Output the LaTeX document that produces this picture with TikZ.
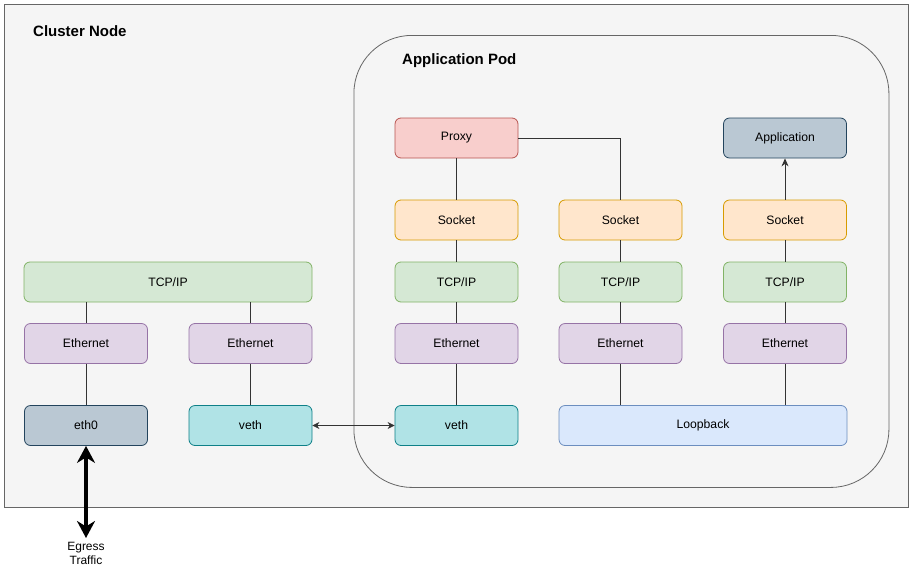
\documentclass[tikz,border=0pt]{standalone}
\usepackage{fontspec}
\setmainfont{Liberation Sans}
\usetikzlibrary{arrows.meta}
\definecolor{grayfill}{HTML}{F5F5F5}
\definecolor{graystroke}{HTML}{666666}
\definecolor{redfill}{HTML}{F8CECC}
\definecolor{redstroke}{HTML}{B85450}
\definecolor{bgfill}{HTML}{BAC8D3}
\definecolor{bgstroke}{HTML}{23445D}
\definecolor{orfill}{HTML}{FFE6CC}
\definecolor{orstroke}{HTML}{D79B00}
\definecolor{grfill}{HTML}{D5E8D4}
\definecolor{grstroke}{HTML}{82B366}
\definecolor{pufill}{HTML}{E1D5E7}
\definecolor{pustroke}{HTML}{9673A6}
\definecolor{tefill}{HTML}{B0E3E6}
\definecolor{testroke}{HTML}{0E8088}
\definecolor{blfill}{HTML}{DAE8FC}
\definecolor{blstroke}{HTML}{6C8EBF}
\definecolor{linec}{HTML}{333333}
\tikzset{
  box/.style={draw, rounded corners=6pt, minimum height=40pt, minimum width=123pt,
    inner sep=0pt, font=\fontsize{12.2}{14}\selectfont, line width=0.8pt},
  wide/.style={box, minimum width=288pt},
  redbox/.style={box, fill=redfill, draw=redstroke},
  appbox/.style={box, fill=bgfill, draw=bgstroke},
  sockbox/.style={box, fill=orfill, draw=orstroke},
  tcpbox/.style={box, fill=grfill, draw=grstroke},
  ethbox/.style={box, fill=pufill, draw=pustroke},
  vethbox/.style={box, fill=tefill, draw=testroke},
  loopbox/.style={box, fill=blfill, draw=blstroke},
  conn/.style={draw=linec, line width=0.8pt},
  title/.style={anchor=west, font=\fontsize{15}{18}\selectfont\bfseries, inner sep=0pt},
}
\begin{document}
\begin{tikzpicture}[x=1pt,y=-1pt]
\useasboundingbox (0,0) rectangle (909,570);
% cluster node
\node[draw=graystroke, fill=grayfill, line width=0.8pt, minimum width=904pt, minimum height=503pt, inner sep=0pt, anchor=north west] (cluster) at (4,4) {};
\node[title] (clustertitle) at (33,31) {Cluster Node};
% pod
\node[draw=graystroke, fill=grayfill, line width=0.8pt, rounded corners=58pt, minimum width=535pt, minimum height=452pt, inner sep=0pt, anchor=north west] (pod) at (353.5,35) {};
\node[title] (podtitle) at (402,61) {Application Pod};

% left side
\node[tcpbox, wide] (tcpL) at (168,282) {TCP/IP};
\node[ethbox] (ethA) at (86,343.5) {Ethernet};
\node[ethbox] (ethB) at (250.5,343.5) {Ethernet};
\node[appbox] (eth0) at (86,425.5) {eth0};
\node[vethbox] (vethA) at (250.5,425.5) {veth};

% pod column 1
\node[redbox] (proxy) at (456.5,138) {Proxy};
\node[sockbox] (sock1) at (456.5,220) {Socket};
\node[tcpbox] (tcp1) at (456.5,282) {TCP/IP};
\node[ethbox] (eth1) at (456.5,343.5) {Ethernet};
\node[vethbox] (vethB) at (456.5,425.5) {veth};
% column 2
\node[sockbox] (sock2) at (620.5,220) {Socket};
\node[tcpbox] (tcp2) at (620.5,282) {TCP/IP};
\node[ethbox] (eth2) at (620.5,343.5) {Ethernet};
% column 3
\node[appbox] (app) at (785,138) {Application};
\node[sockbox] (sock3) at (785,220) {Socket};
\node[tcpbox] (tcp3) at (785,282) {TCP/IP};
\node[ethbox] (eth3) at (785,343.5) {Ethernet};
\node[loopbox, wide] (loop) at (703,425.5) {Loopback};

% connectors left
\draw[conn] (tcpL.south -| ethA.north) -- (ethA.north);
\draw[conn] (tcpL.south -| ethB.north) -- (ethB.north);
\draw[conn] (ethA) -- (eth0);
\draw[conn] (ethB) -- (vethA);
\draw[conn, {Stealth[length=7pt,width=7pt]}-{Stealth[length=7pt,width=7pt]}] (vethA) -- (vethB);

% pod connectors
\draw[conn] (proxy) -- (sock1);
\draw[conn] (sock1) -- (tcp1);
\draw[conn] (tcp1) -- (eth1);
\draw[conn] (eth1) -- (vethB);
\draw[conn] (proxy.east) -| (sock2.north);
\draw[conn] (sock2) -- (tcp2);
\draw[conn] (tcp2) -- (eth2);
\draw[conn] (eth2.south) -- (eth2.south |- loop.north);
\draw[conn, -{Stealth[length=8pt,width=7pt]}] (sock3) -- (app);
\draw[conn] (sock3) -- (tcp3);
\draw[conn] (tcp3) -- (eth3);
\draw[conn] (eth3.south) -- (eth3.south |- loop.north);

% egress
\coordinate (egressend) at (86,538);
\draw[line width=4pt, {Stealth[length=17pt,width=18pt]}-{Stealth[length=17pt,width=18pt]}] (eth0.south) -- (egressend);
\node[align=center, font=\fontsize{12}{14}\selectfont, inner sep=0pt, anchor=north] (egress) at (86,542.5) {Egress\\Traffic};
\end{tikzpicture}
\end{document}
